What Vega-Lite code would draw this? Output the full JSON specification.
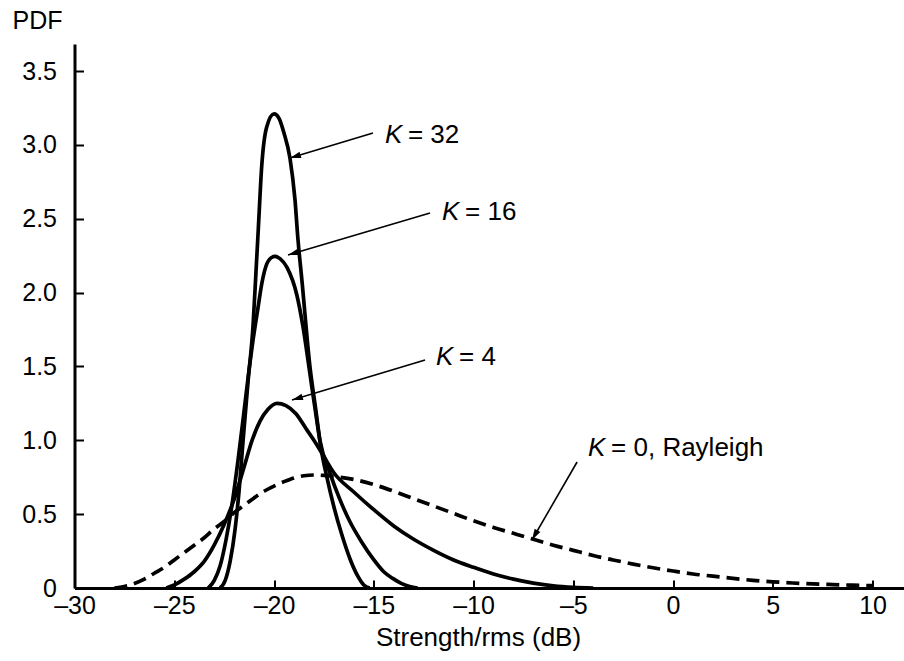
{
  "$schema": "https://vega.github.io/schema/vega-lite/v6.json",
  "width": 830,
  "height": 544,
  "autosize": {"type": "none"},
  "padding": {"left": 74.5, "top": 44, "right": 0, "bottom": 73},
  "background": "white",
  "config": {"view": {"stroke": null}, "font": "Liberation Sans"},
  "datasets": {
    "curves": [
      {"K": 32, "x": -22.7, "pdf": 0}, {"K": 32, "x": -22.45, "pdf": 0.05}, {"K": 32, "x": -22.2, "pdf": 0.18},
      {"K": 32, "x": -21.95, "pdf": 0.4}, {"K": 32, "x": -21.75, "pdf": 0.66}, {"K": 32, "x": -21.55, "pdf": 1.0},
      {"K": 32, "x": -21.3, "pdf": 1.4}, {"K": 32, "x": -21.05, "pdf": 1.78}, {"K": 32, "x": -20.9, "pdf": 2.15},
      {"K": 32, "x": -20.78, "pdf": 2.45}, {"K": 32, "x": -20.62, "pdf": 2.85}, {"K": 32, "x": -20.37, "pdf": 3.12},
      {"K": 32, "x": -20.0, "pdf": 3.21}, {"K": 32, "x": -19.75, "pdf": 3.18}, {"K": 32, "x": -19.5, "pdf": 3.08},
      {"K": 32, "x": -19.2, "pdf": 2.91}, {"K": 32, "x": -18.95, "pdf": 2.63}, {"K": 32, "x": -18.8, "pdf": 2.36},
      {"K": 32, "x": -18.6, "pdf": 2.08}, {"K": 32, "x": -18.2, "pdf": 1.5}, {"K": 32, "x": -17.9, "pdf": 1.2},
      {"K": 32, "x": -17.65, "pdf": 0.95}, {"K": 32, "x": -17.35, "pdf": 0.75}, {"K": 32, "x": -17.0, "pdf": 0.55},
      {"K": 32, "x": -16.6, "pdf": 0.36}, {"K": 32, "x": -16.2, "pdf": 0.2}, {"K": 32, "x": -15.8, "pdf": 0.08},
      {"K": 32, "x": -15.5, "pdf": 0.02}, {"K": 32, "x": -15.2, "pdf": 0},

      {"K": 16, "x": -23.3, "pdf": 0}, {"K": 16, "x": -23.0, "pdf": 0.05}, {"K": 16, "x": -22.7, "pdf": 0.15},
      {"K": 16, "x": -22.4, "pdf": 0.33}, {"K": 16, "x": -22.1, "pdf": 0.57}, {"K": 16, "x": -21.8, "pdf": 0.87},
      {"K": 16, "x": -21.5, "pdf": 1.2}, {"K": 16, "x": -21.25, "pdf": 1.48}, {"K": 16, "x": -21.05, "pdf": 1.68},
      {"K": 16, "x": -20.8, "pdf": 1.9}, {"K": 16, "x": -20.6, "pdf": 2.07}, {"K": 16, "x": -20.4, "pdf": 2.18},
      {"K": 16, "x": -20.15, "pdf": 2.235}, {"K": 16, "x": -19.95, "pdf": 2.245}, {"K": 16, "x": -19.7, "pdf": 2.23},
      {"K": 16, "x": -19.35, "pdf": 2.17}, {"K": 16, "x": -18.85, "pdf": 1.98}, {"K": 16, "x": -18.55, "pdf": 1.77},
      {"K": 16, "x": -18.2, "pdf": 1.45}, {"K": 16, "x": -17.95, "pdf": 1.22}, {"K": 16, "x": -17.7, "pdf": 1.0},
      {"K": 16, "x": -17.2, "pdf": 0.78}, {"K": 16, "x": -16.7, "pdf": 0.6}, {"K": 16, "x": -16.2, "pdf": 0.45},
      {"K": 16, "x": -15.6, "pdf": 0.31}, {"K": 16, "x": -15.05, "pdf": 0.2}, {"K": 16, "x": -14.5, "pdf": 0.11},
      {"K": 16, "x": -14.05, "pdf": 0.065}, {"K": 16, "x": -13.6, "pdf": 0.03}, {"K": 16, "x": -13.2, "pdf": 0.01},
      {"K": 16, "x": -12.8, "pdf": 0},

      {"K": 4, "x": -25.4, "pdf": 0}, {"K": 4, "x": -25.0, "pdf": 0.02}, {"K": 4, "x": -24.5, "pdf": 0.06},
      {"K": 4, "x": -24.0, "pdf": 0.11}, {"K": 4, "x": -23.5, "pdf": 0.18}, {"K": 4, "x": -23.0, "pdf": 0.29},
      {"K": 4, "x": -22.5, "pdf": 0.43}, {"K": 4, "x": -22.0, "pdf": 0.6}, {"K": 4, "x": -21.5, "pdf": 0.82},
      {"K": 4, "x": -21.1, "pdf": 1.0}, {"K": 4, "x": -20.7, "pdf": 1.13}, {"K": 4, "x": -20.3, "pdf": 1.21},
      {"K": 4, "x": -19.85, "pdf": 1.25}, {"K": 4, "x": -19.4, "pdf": 1.235}, {"K": 4, "x": -18.9, "pdf": 1.18},
      {"K": 4, "x": -18.4, "pdf": 1.08}, {"K": 4, "x": -18.0, "pdf": 1.0}, {"K": 4, "x": -17.5, "pdf": 0.89},
      {"K": 4, "x": -17.0, "pdf": 0.78}, {"K": 4, "x": -16.0, "pdf": 0.65}, {"K": 4, "x": -15.0, "pdf": 0.53},
      {"K": 4, "x": -14.0, "pdf": 0.42}, {"K": 4, "x": -13.0, "pdf": 0.33}, {"K": 4, "x": -12.0, "pdf": 0.255},
      {"K": 4, "x": -11.0, "pdf": 0.19}, {"K": 4, "x": -10.0, "pdf": 0.14}, {"K": 4, "x": -9.0, "pdf": 0.095},
      {"K": 4, "x": -8.0, "pdf": 0.06}, {"K": 4, "x": -7.0, "pdf": 0.033}, {"K": 4, "x": -6.0, "pdf": 0.014},
      {"K": 4, "x": -5.0, "pdf": 0.004}, {"K": 4, "x": -4.0, "pdf": 0},

      {"K": 0, "x": -28.0, "pdf": 0}, {"K": 0, "x": -27.5, "pdf": 0.01}, {"K": 0, "x": -27.0, "pdf": 0.03},
      {"K": 0, "x": -26.5, "pdf": 0.06}, {"K": 0, "x": -26.0, "pdf": 0.1}, {"K": 0, "x": -25.5, "pdf": 0.14},
      {"K": 0, "x": -25.0, "pdf": 0.19}, {"K": 0, "x": -24.5, "pdf": 0.24}, {"K": 0, "x": -24.0, "pdf": 0.29},
      {"K": 0, "x": -23.5, "pdf": 0.34}, {"K": 0, "x": -23.0, "pdf": 0.4}, {"K": 0, "x": -22.5, "pdf": 0.45},
      {"K": 0, "x": -22.0, "pdf": 0.51}, {"K": 0, "x": -21.5, "pdf": 0.56}, {"K": 0, "x": -21.0, "pdf": 0.61},
      {"K": 0, "x": -20.5, "pdf": 0.655}, {"K": 0, "x": -20.0, "pdf": 0.69}, {"K": 0, "x": -19.5, "pdf": 0.72},
      {"K": 0, "x": -19.0, "pdf": 0.745}, {"K": 0, "x": -18.5, "pdf": 0.76}, {"K": 0, "x": -18.0, "pdf": 0.765},
      {"K": 0, "x": -17.5, "pdf": 0.762}, {"K": 0, "x": -17.0, "pdf": 0.755}, {"K": 0, "x": -16.0, "pdf": 0.735},
      {"K": 0, "x": -15.0, "pdf": 0.7}, {"K": 0, "x": -14.0, "pdf": 0.655}, {"K": 0, "x": -13.0, "pdf": 0.605},
      {"K": 0, "x": -12.0, "pdf": 0.555}, {"K": 0, "x": -11.0, "pdf": 0.505}, {"K": 0, "x": -10.0, "pdf": 0.455},
      {"K": 0, "x": -9.0, "pdf": 0.41}, {"K": 0, "x": -8.0, "pdf": 0.37}, {"K": 0, "x": -7.0, "pdf": 0.33},
      {"K": 0, "x": -6.0, "pdf": 0.29}, {"K": 0, "x": -5.0, "pdf": 0.255}, {"K": 0, "x": -4.0, "pdf": 0.22},
      {"K": 0, "x": -3.0, "pdf": 0.19}, {"K": 0, "x": -2.0, "pdf": 0.162}, {"K": 0, "x": -1.0, "pdf": 0.137},
      {"K": 0, "x": 0.0, "pdf": 0.115}, {"K": 0, "x": 1.0, "pdf": 0.095}, {"K": 0, "x": 2.0, "pdf": 0.08},
      {"K": 0, "x": 3.0, "pdf": 0.065}, {"K": 0, "x": 4.0, "pdf": 0.052}, {"K": 0, "x": 5.0, "pdf": 0.042},
      {"K": 0, "x": 6.0, "pdf": 0.034}, {"K": 0, "x": 7.0, "pdf": 0.028}, {"K": 0, "x": 8.0, "pdf": 0.023},
      {"K": 0, "x": 9.0, "pdf": 0.019}, {"K": 0, "x": 10.0, "pdf": 0.016}
    ],
    "notes": [
      {"rest": "= 32", "lx": -14.44, "ly": 3.067, "sx": -15.04, "sy": 3.081, "tx": -19.2, "ty": 2.911},
      {"rest": "= 16", "lx": -11.58, "ly": 2.546, "sx": -12.18, "sy": 2.539, "tx": -19.3, "ty": 2.255},
      {"rest": "= 4", "lx": -11.88, "ly": 1.564, "sx": -12.43, "sy": 1.544, "tx": -19.1, "ty": 1.273},
      {"rest": "= 0, Rayleigh", "lx": -4.26, "ly": 0.948, "sx": -4.81, "sy": 0.853, "tx": -7.07, "ty": 0.325}
    ]
  },
  "layer": [
    {
      "data": {"name": "curves"},
      "transform": [{"filter": "datum.K != 0"}],
      "mark": {"type": "line", "color": "black", "strokeWidth": 3.7, "interpolate": "monotone", "clip": true},
      "encoding": {
        "x": {
          "field": "x", "type": "quantitative",
          "scale": {"domain": [-30, 11.6], "nice": false, "zero": false},
          "axis": {
            "values": [-30, -25, -20, -15, -10, -5, 0, 5, 10],
            "labelExpr": "datum.value < 0 ? '\u2013' + format(-datum.value, 'd') : format(datum.value, 'd')",
            "grid": false, "domainColor": "black", "domainWidth": 3, "tickColor": "black", "tickWidth": 2,
            "tickSize": -8, "labelFontSize": 25, "labelColor": "black", "labelPadding": 13, "labelFlush": false,
            "title": "Strength/rms (dB)", "titleFontSize": 26, "titleFontWeight": "normal", "titleColor": "black",
            "titleX": 403.5, "titleY": 49, "titleBaseline": "middle", "titleAlign": "center"
          }
        },
        "y": {
          "field": "pdf", "type": "quantitative",
          "scale": {"domain": [0, 3.683], "nice": false},
          "axis": {
            "values": [0, 0.5, 1, 1.5, 2, 2.5, 3, 3.5],
            "labelExpr": "datum.value == 0 ? '0' : format(datum.value, '.1f')",
            "grid": false, "domainColor": "black", "domainWidth": 3, "tickColor": "black", "tickWidth": 2,
            "tickSize": -9, "labelFontSize": 25, "labelColor": "black", "labelPadding": 27, "labelFlush": false,
            "title": "PDF", "titleFontSize": 25, "titleFontWeight": "normal", "titleColor": "black",
            "titleAngle": 0, "titleAlign": "left", "titleBaseline": "middle", "titleX": -62.5, "titleY": -24
          }
        },
        "detail": {"field": "K", "type": "nominal"}
      }
    },
    {
      "data": {"name": "curves"},
      "transform": [{"filter": "datum.K == 0"}],
      "mark": {"type": "line", "color": "black", "strokeWidth": 3.7, "strokeDash": [13, 7], "interpolate": "monotone"},
      "encoding": {
        "x": {"field": "x", "type": "quantitative"},
        "y": {"field": "pdf", "type": "quantitative"}
      }
    },
    {
      "data": {"name": "notes"},
      "mark": {"type": "rule", "color": "black", "strokeWidth": 1.6},
      "encoding": {
        "x": {"field": "sx", "type": "quantitative"},
        "y": {"field": "sy", "type": "quantitative"},
        "x2": {"field": "tx"},
        "y2": {"field": "ty"}
      }
    },
    {
      "data": {"name": "notes"},
      "transform": [{"calculate": "atan2((datum.tx - datum.sx) * 19.95, (datum.ty - datum.sy) * 147.7) * 180 / PI", "as": "angle"}],
      "mark": {"type": "point", "shape": "M0,0L-0.3,1L0.3,1Z", "filled": true, "color": "black", "opacity": 1, "size": 484, "strokeWidth": 0},
      "encoding": {
        "x": {"field": "tx", "type": "quantitative"},
        "y": {"field": "ty", "type": "quantitative"},
        "angle": {"field": "angle", "type": "quantitative", "scale": null}
      }
    },
    {
      "data": {"name": "notes"},
      "mark": {"type": "text", "align": "left", "baseline": "middle", "fontSize": 26, "fontStyle": "italic", "color": "black"},
      "encoding": {
        "x": {"field": "lx", "type": "quantitative"},
        "y": {"field": "ly", "type": "quantitative"},
        "text": {"value": "K"}
      }
    },
    {
      "data": {"name": "notes"},
      "mark": {"type": "text", "align": "left", "baseline": "middle", "fontSize": 26, "color": "black", "dx": 23},
      "encoding": {
        "x": {"field": "lx", "type": "quantitative"},
        "y": {"field": "ly", "type": "quantitative"},
        "text": {"field": "rest"}
      }
    }
  ]
}
